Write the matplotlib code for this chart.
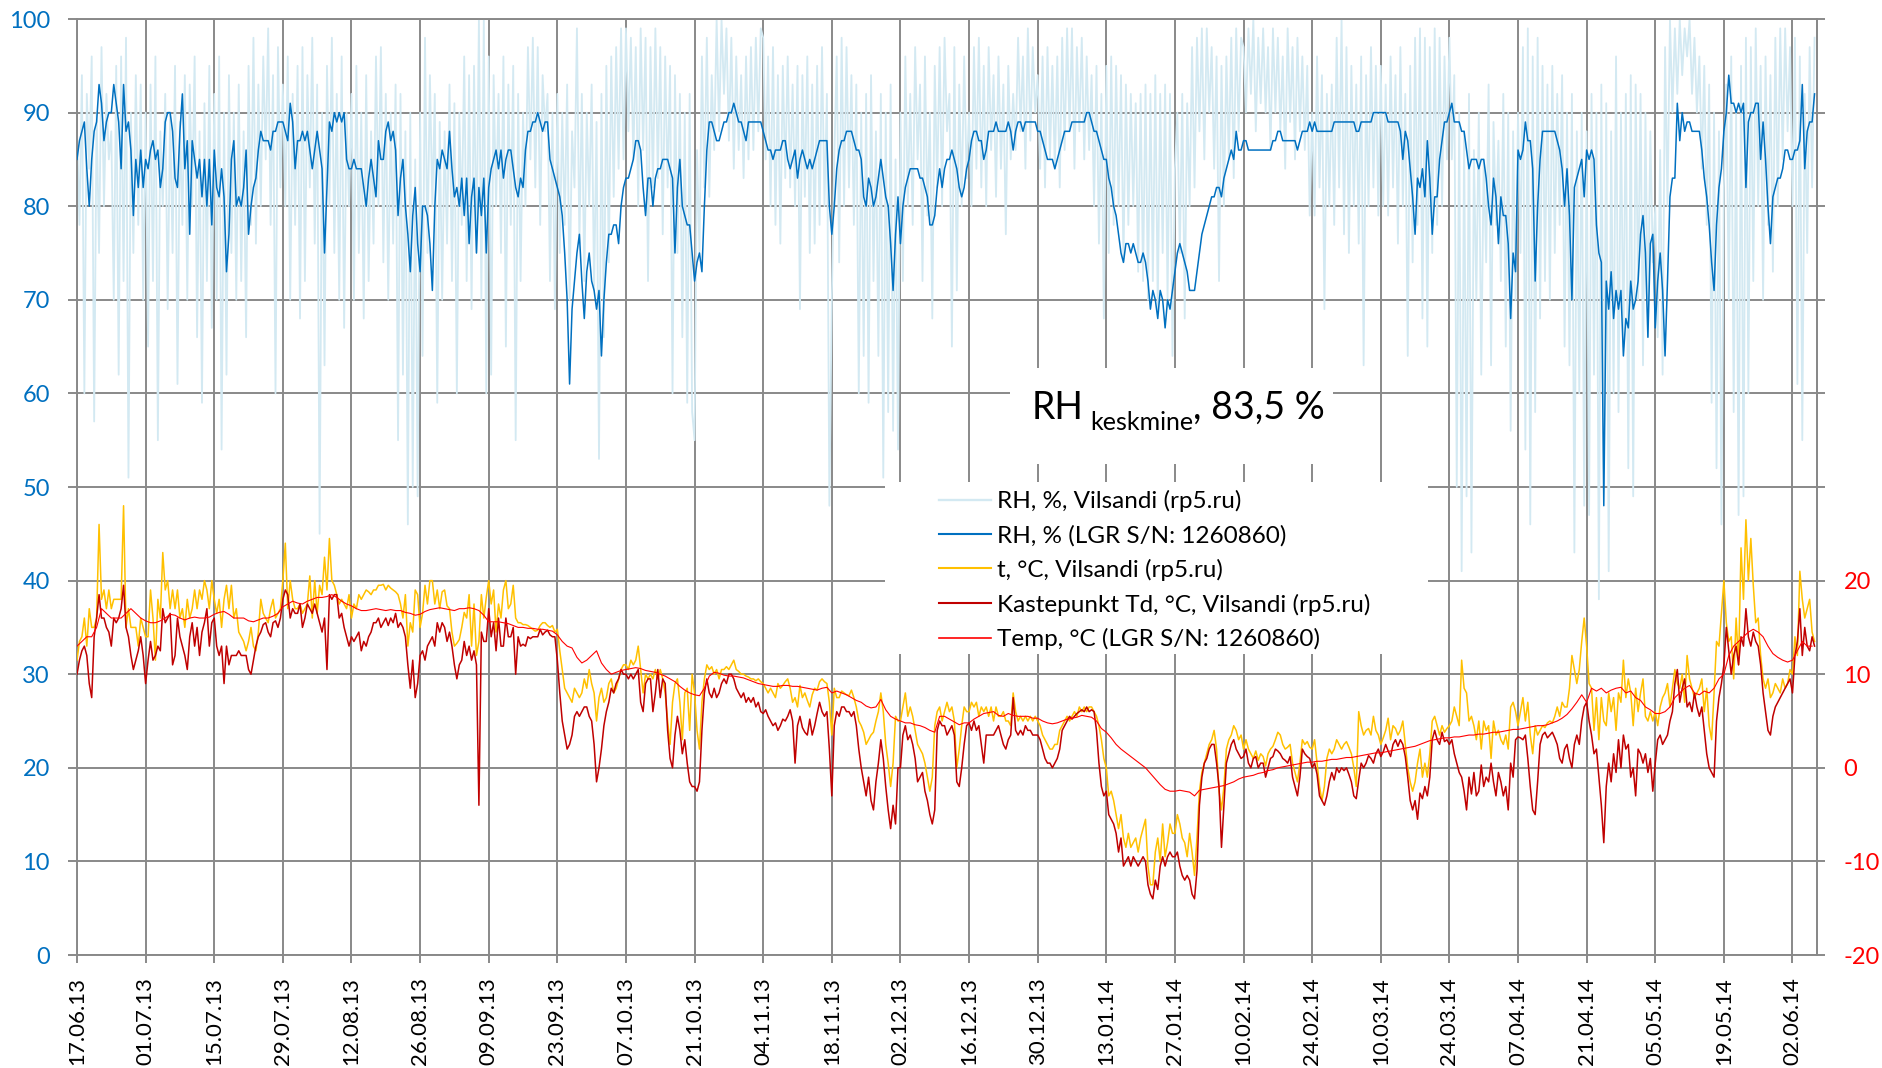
import numpy as np
import matplotlib
matplotlib.use("Agg")
from matplotlib import pyplot as plt
from matplotlib import dates as mdates
from matplotlib.patches import Rectangle
from matplotlib.lines import Line2D

plt.rcParams["font.family"] = ["Lato", "DejaVu Sans"]

startDate = np.datetime64("2013-06-17T00:00")
totalDays = 355
tickDays = np.arange(0, 351, 14)

# readings every 12 h from 17.06.13, one row per two weeks
rhStation = [
  88, 78, 94, 60, 92, 84, 96, 57, 90, 75, 97, 80, 92, 85, 88, 70, 95, 62, 96, 72, 98, 51, 90, 75, 94, 78, 93, 70,
  90, 65, 93, 72, 96, 55, 88, 80, 92, 69, 90, 75, 95, 61, 89, 78, 94, 70, 93, 80, 96, 66, 88, 59, 91, 72, 95, 67,
  92, 70, 96, 54, 90, 62, 94, 75, 90, 70, 93, 72, 88, 66, 95, 78, 98, 76, 93, 80, 96, 85, 99, 78, 94, 60, 97, 82,
  93, 80, 96, 70, 92, 78, 95, 68, 97, 72, 94, 82, 98, 76, 93, 45, 90, 63, 95, 80, 98, 75, 92, 70, 96, 67, 90, 80,
  92, 70, 95, 75, 90, 68, 94, 72, 88, 76, 96, 80, 97, 74, 92, 70, 90, 76, 93, 55, 92, 62, 88, 46, 90, 50, 85, 49,
  90, 64, 98, 75, 94, 80, 92, 59, 89, 70, 88, 76, 93, 72, 91, 60, 90, 78, 96, 72, 94, 69, 95, 75, 100, 70, 100, 60,
  96, 62, 94, 80, 92, 75, 96, 65, 93, 78, 95, 55, 92, 72, 90, 80, 97, 85, 98, 82, 97, 78, 94, 88, 92, 72, 90, 69,
  92, 75, 90, 78, 93, 70, 88, 82, 99, 76, 92, 72, 90, 80, 93, 71, 89, 53, 92, 66, 95, 74, 96, 81, 97, 84, 99, 85,
  99, 88, 98, 85, 97, 80, 99, 86, 98, 72, 97, 82, 99, 83, 97, 77, 96, 82, 95, 60, 94, 75, 92, 66, 90, 59, 92, 58,
  55, 86, 75, 96, 82, 98, 81, 94, 86, 100, 88, 100, 92, 99, 87, 98, 84, 96, 86, 94, 83, 96, 85, 97, 86, 98, 88, 99,
  98, 85, 96, 80, 97, 78, 94, 76, 95, 83, 96, 82, 93, 80, 95, 69, 94, 81, 96, 75, 93, 76, 95, 78, 97, 80, 92, 48,
  70, 85, 96, 74, 98, 80, 97, 82, 94, 78, 93, 60, 90, 64, 92, 59, 94, 72, 88, 64, 92, 51, 90, 58, 93, 56, 85, 54,
  90, 72, 96, 80, 92, 78, 97, 85, 93, 72, 96, 79, 90, 68, 95, 82, 97, 80, 98, 88, 92, 65, 97, 71, 93, 80, 96, 83,
  90, 80, 97, 84, 98, 82, 95, 80, 97, 86, 94, 81, 96, 84, 93, 77, 95, 85, 92, 86, 98, 88, 96, 84, 99, 87, 97, 90,
  94, 84, 96, 82, 97, 85, 95, 84, 96, 82, 98, 86, 99, 88, 99, 84, 97, 88, 98, 85, 96, 86, 94, 80, 95, 76, 92, 68,
  95, 75, 96, 78, 95, 80, 94, 74, 93, 78, 92, 80, 91, 73, 92, 72, 93, 70, 92, 72, 94, 69, 92, 75, 93, 70, 92, 64,
  84, 90, 75, 92, 68, 91, 80, 97, 82, 98, 88, 99, 85, 99, 90, 97, 84, 96, 72, 95, 80, 96, 85, 98, 83, 99, 88, 98,
  97, 90, 99, 92, 100, 88, 98, 91, 99, 90, 97, 86, 99, 90, 98, 88, 96, 84, 99, 89, 97, 85, 98, 88, 96, 86, 95, 79,
  90, 79, 96, 82, 94, 69, 92, 80, 93, 78, 98, 82, 100, 77, 97, 75, 95, 80, 93, 76, 96, 63, 94, 80, 97, 82, 95, 79,
  95, 80, 93, 79, 96, 82, 94, 76, 97, 80, 92, 64, 95, 74, 98, 78, 99, 68, 98, 65, 97, 75, 99, 78, 98, 80, 96, 85,
  98, 85, 94, 50, 90, 41, 88, 49, 92, 43, 86, 70, 90, 62, 85, 74, 93, 63, 89, 78, 87, 72, 92, 65, 90, 56, 88, 70,
  90, 75, 97, 54, 99, 46, 96, 58, 98, 68, 95, 72, 93, 70, 95, 75, 92, 78, 94, 65, 90, 63, 92, 43, 88, 60, 90, 48,
  88, 47, 92, 62, 90, 38, 93, 52, 91, 41, 88, 60, 96, 58, 90, 65, 92, 52, 94, 49, 93, 70, 92, 63, 90, 66, 88, 74,
  80, 66, 86, 62, 97, 80, 100, 90, 99, 92, 100, 94, 99, 96, 100, 92, 98, 90, 96, 84, 95, 78, 93, 59, 90, 52, 88, 46,
  82, 93, 70, 96, 58, 90, 47, 95, 49, 98, 60, 97, 72, 99, 80, 95, 70, 96, 78, 94, 73, 98, 80, 99, 85, 99, 88, 97,
  80, 98, 61, 96, 55, 92, 75, 97, 82, 98,
]

rhLogger = [
  85, 87, 88, 89, 84, 80, 85, 88, 89, 93, 91, 87, 89, 90, 90, 93, 91, 89, 84, 93, 88, 89, 86, 79, 85, 82, 86, 82,
  85, 84, 86, 87, 85, 86, 82, 84, 89, 90, 90, 88, 83, 82, 88, 92, 84, 87, 77, 87, 85, 83, 85, 81, 85, 80, 85, 78,
  86, 82, 81, 84, 81, 73, 77, 85, 87, 80, 81, 80, 82, 86, 77, 80, 82, 83, 86, 88, 87, 87, 87, 86, 88, 88, 89, 89,
  89, 88, 87, 91, 89, 84, 87, 87, 88, 87, 88, 86, 84, 86, 88, 86, 84, 75, 82, 89, 88, 90, 89, 90, 89, 90, 85, 84,
  84, 85, 84, 84, 84, 82, 80, 83, 85, 83, 81, 87, 85, 85, 88, 89, 87, 88, 86, 79, 83, 85, 80, 77, 73, 79, 82, 76,
  73, 80, 80, 79, 76, 71, 80, 85, 84, 86, 85, 84, 88, 84, 81, 82, 80, 83, 79, 83, 76, 81, 83, 75, 82, 79, 83, 75,
  82, 84, 85, 86, 84, 86, 83, 85, 86, 86, 84, 82, 81, 83, 82, 86, 88, 88, 89, 89, 90, 89, 88, 89, 89, 85, 84, 83,
  82, 81, 79, 75, 70, 61, 69, 72, 75, 77, 72, 68, 73, 75, 72, 71, 69, 71, 64, 70, 74, 77, 77, 78, 78, 76, 80, 82,
  83, 83, 84, 85, 87, 87, 86, 82, 79, 83, 83, 80, 83, 84, 84, 85, 85, 85, 84, 83, 75, 82, 85, 80, 79, 78, 78, 75,
  72, 74, 75, 73, 80, 86, 89, 89, 88, 87, 87, 88, 89, 89, 90, 90, 91, 90, 89, 89, 88, 87, 89, 89, 89, 89, 89, 89,
  88, 87, 86, 86, 85, 86, 86, 86, 87, 87, 85, 84, 85, 86, 83, 85, 86, 85, 84, 85, 84, 85, 86, 87, 87, 87, 87, 80,
  77, 80, 84, 86, 87, 87, 88, 88, 88, 87, 86, 86, 85, 81, 80, 83, 82, 80, 81, 83, 85, 83, 81, 80, 76, 71, 77, 81,
  76, 80, 82, 83, 84, 84, 84, 84, 83, 83, 82, 81, 78, 78, 79, 82, 84, 82, 84, 85, 85, 86, 85, 84, 82, 81, 82, 84,
  85, 87, 88, 88, 87, 87, 85, 86, 88, 88, 88, 89, 88, 88, 88, 88, 89, 88, 86, 88, 89, 89, 88, 89, 89, 89, 89, 89,
  88, 88, 87, 86, 85, 85, 85, 84, 85, 86, 87, 88, 88, 88, 89, 89, 89, 89, 89, 89, 90, 90, 89, 88, 88, 87, 86, 85,
  85, 83, 82, 80, 79, 77, 75, 74, 76, 76, 75, 76, 75, 74, 74, 75, 74, 72, 69, 71, 70, 68, 71, 70, 67, 70, 69, 71,
  73, 75, 76, 75, 74, 73, 71, 71, 71, 73, 75, 77, 78, 79, 80, 81, 81, 82, 82, 81, 83, 84, 85, 86, 85, 88, 86, 86,
  87, 87, 86, 86, 86, 86, 86, 86, 86, 86, 86, 86, 87, 87, 88, 88, 87, 87, 87, 87, 87, 87, 86, 87, 88, 88, 88, 89,
  88, 89, 88, 88, 88, 88, 88, 88, 88, 89, 89, 89, 89, 89, 89, 89, 89, 89, 88, 88, 89, 89, 89, 89, 89, 90, 90, 90,
  90, 90, 90, 89, 89, 89, 89, 89, 88, 85, 88, 87, 84, 81, 77, 83, 82, 84, 81, 87, 83, 77, 81, 81, 85, 87, 89, 89,
  90, 91, 89, 89, 89, 88, 88, 86, 84, 85, 85, 85, 84, 85, 85, 83, 80, 78, 83, 81, 76, 81, 79, 79, 76, 68, 75, 73,
  86, 85, 86, 89, 87, 87, 84, 72, 80, 85, 88, 88, 88, 88, 88, 88, 87, 86, 84, 80, 84, 79, 70, 82, 83, 84, 85, 81,
  86, 85, 86, 85, 78, 75, 74, 48, 72, 69, 73, 68, 71, 69, 71, 64, 68, 67, 72, 69, 70, 72, 77, 79, 75, 66, 76, 77,
  67, 72, 75, 71, 64, 72, 81, 83, 83, 91, 87, 90, 88, 89, 89, 88, 88, 88, 88, 86, 83, 81, 78, 74, 71, 78, 82, 84,
  88, 90, 94, 91, 91, 90, 91, 90, 91, 82, 89, 90, 90, 91, 91, 85, 89, 85, 80, 76, 81, 82, 83, 83, 84, 86, 86, 85,
  85, 86, 86, 87, 93, 84, 88, 89, 89, 92,
]

tStation = [
  11.5, 13.5, 14, 16, 13, 17, 15, 15, 16, 26, 18, 19, 17, 19, 17, 18, 18, 18, 18, 28, 15, 17, 15, 15, 15, 13, 16, 15,
  14, 14, 19, 16, 11.5, 18, 16, 23, 19, 20, 17, 19, 17, 19, 16, 17, 15, 18, 16, 17, 19, 17, 19, 18, 20, 19, 17, 20,
  18, 16.5, 18, 15, 18, 19.5, 17, 19.5, 16, 17, 14.5, 14, 13.5, 12.5, 13.5, 15, 13, 12.5, 14.5, 18, 16.5, 16, 15.5, 17, 18, 16, 16.5, 17,
  20, 24, 17, 20, 18, 17, 17, 17.5, 16.5, 17, 17.5, 20.5, 16, 20, 16.5, 19.5, 18.5, 22.5, 19, 24.5, 20, 19.5, 18.5, 17.5, 18, 17.5, 17, 18.5,
  16, 17.5, 17, 18.5, 18, 18.5, 19, 18.8, 18.5, 19, 19, 19.5, 19.5, 19.6, 19, 19.5, 19.2, 19, 18.8, 18.5, 17.5, 16, 18.5, 13, 15.5, 14.5, 19, 18.5,
  15, 16.5, 19.5, 17.5, 20, 20, 17.5, 19, 17, 18.8, 19, 17.3, 17, 14.5, 13, 13.3, 13.7, 15, 16.6, 16, 18.5, 13, 17.5, 12, 13.5, 18.5, 16, 18.2,
  20, 17.5, 19, 14.5, 17.5, 16, 19, 20, 17, 17.5, 19.5, 16, 15.5, 15.5, 15.3, 15.3, 15.2, 15, 14.8, 14.6, 14.7, 15.2, 15.5, 15.5, 15.2, 15, 15.2, 14.5,
  14.8, 12.5, 10.5, 8.5, 8, 7.5, 7, 8.5, 8, 7.5, 8, 9.5, 8.5, 10.5, 9, 8, 5, 7.5, 8.5, 7, 7.5, 9, 9.5, 8, 8.5, 9.5, 10.5, 11,
  11, 10.5, 11.5, 11, 11.5, 13, 10.5, 8, 10, 9.5, 10, 9.5, 10.5, 9.5, 10.5, 9.5, 8, 5, 2.5, 7, 9, 9.5, 7, 3, 8, 8.5, 4, 10,
  8, 4, 2, 7, 9.5, 11, 10.5, 10.8, 10, 10.5, 9.5, 10.5, 10.5, 10.8, 10.5, 11, 11.5, 10.5, 10.3, 10, 10, 9.8, 9.7, 9.5, 9.5, 9.3, 9.5, 9.2,
  9, 8.5, 8, 8.5, 8, 7.5, 9, 8.5, 8.8, 9.2, 9.5, 8.5, 7, 7.5, 6.5, 8.8, 7.5, 8, 7.2, 6.5, 7.8, 8.5, 8.3, 9.2, 9.5, 9.2, 9, 7,
  3.5, 8.5, 7.5, 7.5, 8.2, 8, 7.8, 7.7, 8.3, 7.5, 6.5, 5, 4.5, 3.8, 2.5, 3, 3.5, 3.8, 5, 6, 8, 6, 2.5, 0.5, -2, 0.5, 5.5, 5,
  5, 6.5, 8, 5.5, 6.5, 5.5, 4, 2.5, 2, 1.5, 0.5, -1, -2.5, -1, 4.5, 6, 6.5, 5, 6, 7, 6, 6.5, 5, 0, 2, 4.5, 6.5, 6,
  6, 7, 6.5, 7, 5.5, 6.5, 6, 6.5, 5.5, 6.5, 5, 6.5, 5.5, 5.5, 6, 5, 5, 4.5, 8, 6, 5, 5.5, 5, 5.5, 5, 5.5, 5, 5.5,
  5, 4.5, 3.5, 3, 2.5, 2, 2, 2.5, 2.5, 4, 4.5, 5, 5.5, 5, 5.5, 6, 5.5, 6.5, 6, 6.5, 6, 6.5, 6.5, 6, 5.5, 4.5, 3, 1,
  0, -3, -2.5, -3.5, -5, -6.5, -5, -7.5, -8.5, -7, -8.5, -8, -7.5, -9, -7.5, -6.5, -5.5, -10.5, -12.5, -12.5, -9, -7.5, -10, -6, -9.5, -8, -6, -7,
  -7, -5, -6, -7.5, -8, -9.5, -7, -9, -11.5, -7.5, -2.5, -0.5, 0.5, 1.5, 2.5, 3, 4, 2, -2.5, -4.5, -2, 2, 3, 3.5, 4.5, 4, 3, 3.5,
  2, 3, 2, 1.5, 1, 1.8, 0.8, 1.5, 1.2, 0.2, 1.5, 2, 2.3, 3, 3.8, 3.5, 2.5, 2, 2.2, 2.5, 0.5, -0.5, -1.5, 0.5, 3, 2.5, 2.8, 2.2,
  2, 3, 0.5, -2, -3.5, -2, 1, 2, 1.5, 2, 3, 2.5, 2, 2.5, 2.8, 2.2, 1.5, 0, -2, 6, 4.5, 3.5, 4, 4.2, 3.5, 5.5, 4, 3.5,
  2.5, 3.2, 4, 5.3, 3, 4.5, 4.2, 3.5, 4, 5, 2.5, 0, -1.5, -2.5, -1.5, 0.5, 2, -1, 0.5, -1, 1.5, 5, 5.5, 4.5, 3.5, 4.5, 3.8, 4.2,
  4.5, 5, 6.5, 5.5, 4.5, 11.5, 8.5, 8, 5, 5.5, 4.5, 3, 5, 2, 5, 4, 4.5, 1, 5, 3.5, 4, 3, 2.5, 3.5, 2, 6.5, 7, 6,
  4.5, 6, 7.5, 5, 7, 3.5, 1.5, 4.5, 3.5, 4, 4.5, 4.3, 4.8, 5, 4.8, 5.5, 6.5, 5.5, 7, 6.5, 6.5, 8.5, 12, 10.5, 9, 10.5, 13.5, 16,
  13, 9, 8.5, 4, 7.5, 3, 7.5, 5, 4.5, 8, 6, 7.5, 4, 8, 7, 11.5, 7.5, 9.5, 8, 4.5, 8.5, 6, 8, 9.5, 5.5, 5, 6, 5,
  6, 4.5, 6.5, 7.5, 8, 9, 6.5, 8.5, 10.5, 9, 8.5, 10, 7, 12, 9.5, 8.5, 7.5, 8, 8.5, 9.5, 6, 8.5, 4.5, 3, 8, 13.5, 13, 16.5,
  20, 15.5, 13.5, 14, 9.5, 16, 11, 23.5, 18, 26.5, 20, 24.5, 19.5, 15.5, 16, 12, 9.5, 8.5, 9.5, 7.5, 8, 9, 8.5, 8, 9.5, 8.5, 9, 10.5,
  10, 14, 12, 21, 18, 16, 17, 18, 14.5, 13.5,
]

tdStation = [
  10, 11.5, 12.5, 13, 12, 9, 7.5, 14, 16, 18.5, 16, 16, 15, 14.5, 13, 16, 15.5, 16, 17, 19.5, 15, 14, 12, 10.5, 11.5, 12.5, 14, 12,
  9, 11.5, 13.5, 11.5, 12, 13, 12.5, 17, 15.5, 16, 16.5, 11, 12, 16, 14, 13, 12, 10.5, 14, 15.5, 13, 15, 12, 14.5, 15.5, 17, 13, 15.5,
  16, 13, 12, 13, 9, 13, 11, 12, 12, 12, 12.5, 12, 12, 12, 10.5, 10, 11.5, 13, 14, 14.5, 15.3, 15.5, 14.5, 14, 15.5, 15.7, 15, 16,
  18, 19, 18.5, 16, 17, 16.5, 16.5, 17.5, 15, 16, 17.5, 17, 16.5, 17.5, 16.5, 15.5, 14.5, 16, 10.5, 18.5, 18, 18.5, 18.5, 16, 16.5, 15, 14, 13,
  14, 13.5, 14, 14.5, 12.5, 13.5, 13, 14, 14.5, 15.5, 15.5, 16, 15, 15.5, 16, 15.2, 16, 15.5, 16.5, 15, 15.5, 15, 14, 11, 8.5, 11.5, 7.5, 9,
  12, 12.5, 11.5, 13, 13.5, 14, 13, 15.5, 14.5, 15.5, 15, 13.5, 14.5, 13, 11, 9.5, 11, 11.5, 13.5, 12, 13, 11.5, 12.5, 11, -4, 14.5, 13.5, 13.5,
  17, 14, 15.5, 12.5, 16, 13, 13, 16, 14, 14, 15, 10, 14, 13, 13.2, 13, 14, 13.8, 14, 14, 14, 14.8, 14.2, 14.5, 14.7, 14.2, 14, 14,
  11.5, 8, 5, 3.5, 2, 2.5, 3.5, 5.5, 6, 5.5, 6, 6.5, 6.5, 5.5, 5, 2.5, -1.5, 0, 2, 4.5, 6, 7, 8.5, 8, 9, 9.5, 10.5, 10,
  10, 9.5, 10, 9.5, 10, 10.5, 7, 6, 9, 9.5, 9.5, 6, 8, 10.5, 7.5, 9.5, 9, 4, 1, 0, 3.5, 5.5, 4, 1.5, 3, 0.5, -1.5, -2,
  -2, -2.5, -1.5, 4, 8, 9.5, 8, 7.5, 8.5, 7.5, 8, 9, 9.5, 9, 10, 10, 9.5, 8.5, 8, 7.5, 8, 7, 7.5, 7, 7.5, 6.5, 7, 6,
  5.8, 6.2, 5.5, 5, 4.5, 4.8, 4, 4.5, 5.2, 5, 5.5, 6.2, 5, 0.5, 4.5, 5.5, 4.3, 3.8, 3.5, 5.2, 3.5, 4.5, 5.8, 7, 6, 5.5, 6, 2,
  -3, 4.5, 6, 5.5, 6.5, 6.5, 6, 6, 5.5, 6, 4.5, 2, 0, -1.5, -3, -1, -3.5, -4.5, -1.5, 0.5, 3, 1, -2, -4.5, -6.5, -4, -6, 0,
  0, 3.5, 4.5, 3, 3.5, 2.5, 1, -1.5, -1, -0.5, -2.5, -3.5, -5, -6, -4.5, 4, 5, 4.5, 4.5, 3.5, 4, 4.5, 3.5, -1.5, -2, 0, 2.5, 4.5,
  4.8, 4, 5, 4, 4.5, 2.5, 0.5, 3.5, 3.5, 3.5, 3.5, 4, 4.5, 3.5, 2.5, 2, 3, 3.5, 7.5, 4, 3.5, 4, 3.5, 4.5, 4, 4, 3.5, 3.5,
  3.5, 3, 2, 1, 0.5, 0.5, 0, 0.5, 1, 2, 4, 4.5, 5, 5.5, 5.2, 5.5, 5.8, 6, 6.2, 6, 6.5, 6, 6.2, 6, 4, 0.5, -2, -3,
  -2.5, -5, -5.5, -6, -7, -9, -7.5, -10.5, -10, -9.5, -10.5, -9.5, -10, -10.5, -10, -9.5, -10, -12.5, -13.5, -14, -12, -13, -10.5, -9.5, -10.5, -9.5, -9, -9.5,
  -9.5, -9, -10.5, -11.5, -12, -11.5, -12, -13.5, -14, -11, -4, -1, 0.5, 1, 2, 2.5, 2.5, 0.5, -2, -8.5, -4, 0.5, 1.5, 2.5, 3, 2, 1.5, 1,
  1.2, 2, 0.5, 0, 1, 1.2, 0, 0.5, 0.5, -1, 0, 1, 1.2, 2, 1.8, 1.5, 1, 0.8, 0.5, 1.2, -1, -2, -3, -1, 2, 1.5, 1.2, 1,
  0, 0.5, -0.7, -3, -3.5, -4, -3, -1.5, -0.5, -1.3, 0, -0.5, 0, -0.3, 0, -0.7, -1.5, -3, -3.3, -1.3, 0.5, 0, 0.5, 1.3, 1, 0.5, 1.5, 2,
  1.2, 1.7, 2.5, 1.8, 1.2, 2.5, 3, 2.3, 3, 2.5, 1.2, -1, -3.5, -4.5, -3.5, -5.5, -2.7, -3.3, -2, -3, -1, 3, 4, 3, 2.5, 3.8, 2.8, 3,
  2.5, 3, 1.5, 0.5, -0.5, -1, -2.5, -4.5, -1, -2.8, -0.5, -3, -2.5, 0.3, -2, -1, -1.5, 0.5, -1.5, -3, -0.5, -1.5, -3, -2, -4.5, 0.5, -1, 3,
  3.3, 3.2, 3, 3.5, 1, -2, -4.5, -5, -1.5, 2.5, 3.5, 3.8, 3.2, 3.5, 3.8, 3.2, 2.5, 1, 0.5, 2, 2.5, 1, 0, 2.5, 3.5, 2.5, 5, 6.5,
  7, 5, 3.5, 1.5, 2, -1, -4, -8, -2, 0.5, -1.5, 1.5, -0.5, 3, 0, 3.5, 2, 2.5, -1, 0, -3, 2, 1.5, 0.5, 1.5, -0.5, 1, -2.5,
  0.5, 3, 3.5, 2.5, 3, 3.5, 5, 6, 9, 10.5, 7, 8.5, 9.5, 6.5, 7, 6, 8, 6.5, 5.5, 6.5, 4, 1.5, 0, -0.5, -1, 5, 7.5, 9,
  11, 15, 12.5, 10, 12, 13, 11, 14, 13, 17, 14, 13, 14.5, 13.5, 13, 11, 8, 6, 4, 3.5, 5.5, 6.5, 7, 7.5, 8, 8.5, 9, 9.5,
  8, 12, 13.5, 17, 12, 15, 13, 12.5, 14, 13,
]

# logger temperature, one value per day
tempLogger = [
  13, 13.5, 14, 14, 15, 17, 16.5, 16, 16, 16, 16.5, 17, 16.5, 16,
  15.7, 15.5, 15.5, 15.7, 16, 16.4, 16.3, 16, 15.8, 16, 16.1, 16, 16, 16.1,
  16.4, 16.6, 16.7, 16.4, 16, 16, 16, 15.7, 15.6, 15.8, 16, 16, 16.2, 16.5,
  17.2, 17.5, 17.8, 17.6, 17.5, 17.8, 18, 18.2, 18.2, 18.3, 18.5, 18.2, 17.8, 17.5,
  17.3, 17, 16.8, 16.8, 16.9, 17, 16.9, 16.8, 16.9, 16.8, 16.8, 16.6, 16.5, 16.3,
  16.4, 16.7, 16.9, 17, 17.1, 17, 16.9, 16.8, 17, 17, 17.1, 17, 16.8, 16.3,
  15.6, 15.6, 15.6, 15.5, 15.4, 15.2, 15, 15, 14.9, 14.9, 14.8, 14.8, 14.7, 14.6,
  14.2, 13.5, 13, 12.8, 11.8, 11.2, 11.5, 12, 12.5, 11.2, 10.5, 10, 10.2, 10.4,
  10.5, 10.6, 10.7, 10.6, 10.4, 10.3, 10.2, 10, 9.8, 9.5, 9.2, 8.7, 8.3, 8,
  7.8, 7.7, 8.5, 9.8, 10.2, 10.1, 9.9, 9.8, 9.8, 9.7, 9.6, 9.4, 9.2, 9,
  8.9, 8.8, 8.7, 8.7, 8.8, 8.8, 8.7, 8.7, 8.6, 8.5, 8.4, 8.3, 8.5, 8.6,
  8, 8.2, 8, 7.8, 7.5, 7.2, 7, 6.6, 6.4, 6.5, 7.3, 6.2, 5.5, 5.2,
  5, 4.8, 4.8, 4.6, 4.5, 4.3, 4, 3.8, 5.5, 5.5, 5.2, 4.9, 4.6, 4.8,
  4.8, 5.2, 5.5, 5.8, 5.9, 6, 5.6, 5.5, 5.8, 5.6, 5.5, 5.5, 5.5, 5.3,
  5.3, 5, 4.8, 4.7, 4.8, 5, 5.2, 5.3, 5.4, 5.6, 5.5, 5.4, 5, 4.2,
  3.8, 3.2, 2.5, 2, 1.6, 1.2, 0.8, 0.4, 0, -0.6, -1.2, -1.8, -2.3, -2.5,
  -2.5, -2.4, -2.5, -2.6, -3, -2.4, -2.3, -2.2, -2.1, -2, -1.9, -1.7, -1.5, -1.2,
  -1, -0.9, -0.8, -0.6, -0.5, -0.3, -0.2, 0, 0.1, 0.2, 0.3, 0.4, 0.5, 0.6,
  0.6, 0.7, 0.7, 0.8, 0.9, 0.9, 1, 1.1, 1.1, 1.2, 1.3, 1.4, 1.5, 1.6,
  1.6, 1.7, 1.8, 1.9, 2, 2.1, 2.2, 2.3, 2.5, 2.7, 2.9, 3, 3.1, 3.2,
  3.2, 3.3, 3.3, 3.4, 3.5, 3.5, 3.6, 3.6, 3.7, 3.8, 3.8, 3.9, 4, 4.1,
  4.1, 4.2, 4.3, 4.4, 4.5, 4.5, 4.6, 4.8, 5, 5.3, 5.7, 6.3, 7, 7.8,
  7, 8.5, 8.2, 8.5, 8, 8.3, 8.5, 8.6, 8, 8.2, 7.5, 7.2, 6.5, 6.2,
  5.8, 5.8, 6, 6.5, 7.5, 8, 8.5, 8.8, 8, 7.8, 8.2, 8, 8.5, 9.5,
  10, 12, 13, 13.5, 14, 14.5, 14.8, 14.5, 14, 13, 12.2, 11.8, 11.5, 11.3, 11.5, 12.5, 13.5, 13, 13,
]

seriesLabels = [
  "RH, %, Vilsandi (rp5.ru)",
  "RH, % (LGR S/N: 1260860)",
  "t, °C, Vilsandi (rp5.ru)",
  "Kastepunkt Td, °C, Vilsandi (rp5.ru)",
  "Temp, °C (LGR S/N: 1260860)",
]
seriesColors = ["#D3E9F2", "#0070C0", "#FFC000", "#C00000", "#FF0000"]
seriesWidths = [1.3, 1.1, 1.1, 1.1, 0.8]

gridColor = "#898989"
W, H = 1882, 1068


def timeAxis(values, hours):
  return startDate + np.arange(len(values)) * np.timedelta64(hours, "h")


fig = plt.figure(figsize=(W / 100, H / 100), dpi=100)
ax = fig.add_axes([77 / W, 1 - 955 / H, (1817 - 77) / W, (955 - 19) / H])
ax2 = ax.twinx()

ax.plot(timeAxis(rhStation, 12), rhStation, color=seriesColors[0], lw=seriesWidths[0], zorder=2)
ax.plot(timeAxis(rhLogger, 12), rhLogger, color=seriesColors[1], lw=seriesWidths[1], zorder=3)
ax2.plot(timeAxis(tStation, 12), tStation, color=seriesColors[2], lw=seriesWidths[2], zorder=2)
ax2.plot(timeAxis(tdStation, 12), tdStation, color=seriesColors[3], lw=seriesWidths[3], zorder=3)
ax2.plot(timeAxis(tempLogger, 24), tempLogger, color=seriesColors[4], lw=seriesWidths[4], zorder=4)

ax.set_xlim(startDate, startDate + np.timedelta64(totalDays, "D"))
ax.set_xticks(mdates.date2num(startDate + tickDays * np.timedelta64(1, "D")))
ax.xaxis.set_major_formatter(mdates.DateFormatter("%d.%m.%y"))

ax.set_ylim(0, 100)
ax.set_yticks(range(0, 101, 10))
ax2.set_ylim(-20, 80)
rightTicks = list(range(-20, 81, 10))
ax2.set_yticks(rightTicks)
ax2.set_yticklabels([str(v) if v <= 20 else "" for v in rightTicks])

ax.grid(True, color=gridColor, lw=1.4)
ax.set_axisbelow(True)
for s in ax.spines.values():
  s.set_color(gridColor)
  s.set_linewidth(1.4)
for name, s in ax2.spines.items():
  s.set_visible(name == "right")
  s.set_color(gridColor)
  s.set_linewidth(1.4)

ax.tick_params(axis="x", rotation=90, color=gridColor, width=1.4, length=6, labelsize=16, pad=10, labelcolor="black")
ax.tick_params(axis="y", color=gridColor, width=1.4, length=6.5, labelsize=17, pad=13, labelcolor="#0070C0")
ax2.tick_params(axis="y", color=gridColor, width=1.4, length=6, labelsize=17, pad=13, labelcolor="#FF0000")

# white boxes behind the note and the legend
for x0, y0, x1, y1 in [(1010, 368, 1333, 464), (885, 482, 1428, 654)]:
  ax2.add_patch(Rectangle((x0 / W, 1 - y1 / H), (x1 - x0) / W, (y1 - y0) / H, transform=fig.transFigure,
                          facecolor="white", edgecolor="none", zorder=10, clip_on=False))

t1 = ax2.text(1032 / W, 1 - 419 / H, "RH", transform=fig.transFigure, fontsize=27, va="baseline", ha="left", zorder=11)
t2 = ax2.annotate("keskmine", xy=(1, H - 430), xycoords=(t1, "figure pixels"), xytext=(6, 0),
                  textcoords="offset pixels", fontsize=18, va="baseline", ha="left", zorder=11)
ax2.annotate(", 83,5 %", xy=(1, H - 419), xycoords=(t2, "figure pixels"), fontsize=27,
             va="baseline", ha="left", zorder=11)

handles = [Line2D([], [], color=c, lw=w + 0.4) for c, w in zip(seriesColors, seriesWidths)]
leg = ax2.legend(handles, seriesLabels, loc="upper left", bbox_to_anchor=(939 / W, 1 - 490 / H),
                 bbox_transform=fig.transFigure, frameon=False, fontsize=17.5, handlelength=2.15,
                 handletextpad=0.25, labelspacing=0.52, borderpad=0, borderaxespad=0)
leg.set_zorder(12)

fig.savefig("out.png", dpi=100)
